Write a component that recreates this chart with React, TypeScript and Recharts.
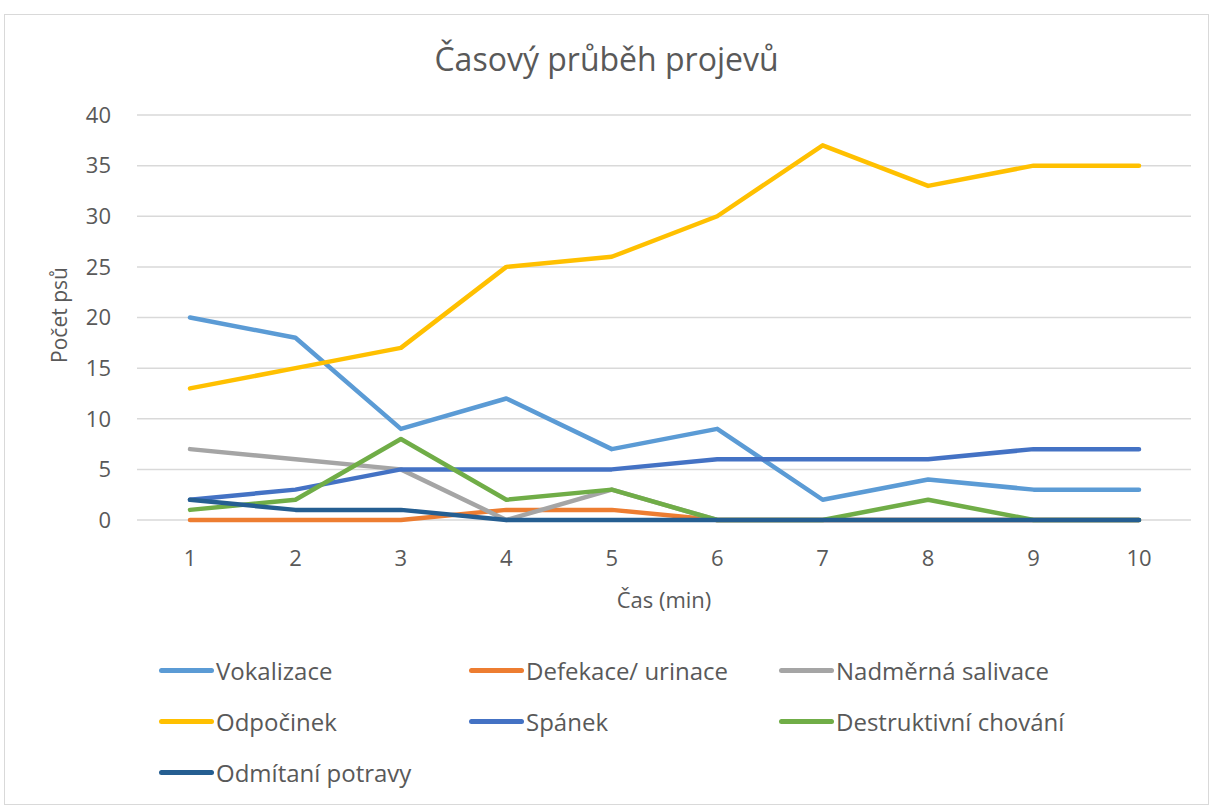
import React from 'react';
import {
  LineChart,
  Line,
  XAxis,
  YAxis,
  CartesianGrid,
} from 'recharts';

const minutes = [1, 2, 3, 4, 5, 6, 7, 8, 9, 10];
const vokalizace = [20, 18, 9, 12, 7, 9, 2, 4, 3, 3];
const defekace = [0, 0, 0, 1, 1, 0, 0, 0, 0, 0];
const salivace = [7, 6, 5, 0, 3, 0, 0, 0, 0, 0];
const odpocinek = [13, 15, 17, 25, 26, 30, 37, 33, 35, 35];
const spanek = [2, 3, 5, 5, 5, 6, 6, 6, 7, 7];
const destruktivni = [1, 2, 8, 2, 3, 0, 0, 2, 0, 0];
const odmitani = [2, 1, 1, 0, 0, 0, 0, 0, 0, 0];
const yTicks = [0, 5, 10, 15, 20, 25, 30, 35, 40];

const series = [
  { key: 'vok', name: 'Vokalizace', values: vokalizace, color: '#5B9BD5' },
  { key: 'def', name: 'Defekace/ urinace', values: defekace, color: '#ED7D31' },
  { key: 'sal', name: 'Nadměrná salivace', values: salivace, color: '#A5A5A5' },
  { key: 'odp', name: 'Odpočinek', values: odpocinek, color: '#FFC000' },
  { key: 'spa', name: 'Spánek', values: spanek, color: '#4472C4' },
  { key: 'des', name: 'Destruktivní chování', values: destruktivni, color: '#70AD47' },
  { key: 'odm', name: 'Odmítaní potravy', values: odmitani, color: '#255E91' },
];

const data = minutes.map((m, i) => {
  const row: { [k: string]: number } = { t: m };
  series.forEach((s) => {
    row[s.key] = s.values[i];
  });
  return row;
});

const FONT = '"Open Sans", sans-serif';
const TEXT = '#595959';

function ChartLegend() {
  return (
    <div
      style={{
        position: 'absolute',
        left: 154,
        top: 630,
        width: 960,
        display: 'grid',
        gridTemplateColumns: '310px 310px 310px',
        fontSize: 24,
        color: TEXT,
      }}
    >
      {series.map((s) => (
        <div
          key={s.key}
          style={{ display: 'flex', alignItems: 'center', height: 51 }}
        >
          <span
            style={{
              display: 'inline-block',
              width: 55,
              height: 5,
              borderRadius: 3,
              background: s.color,
              marginRight: 2,
            }}
          />
          <span>{s.name}</span>
        </div>
      ))}
    </div>
  );
}

export default function App() {
  return (
    <div
      style={{
        position: 'absolute',
        left: 4,
        top: 14,
        width: 1205,
        height: 791,
        border: '1px solid #d9d9d9',
        boxSizing: 'border-box',
        background: '#fff',
        fontFamily: FONT,
      }}
    >
      <div
        style={{
          position: 'absolute',
          top: 22,
          width: '100%',
          textAlign: 'center',
          fontSize: 32,
          color: TEXT,
        }}
      >
        Časový průběh projevů
      </div>
      <div
        style={{
          position: 'absolute',
          left: 54 - 100,
          top: 302 - 16,
          width: 200,
          textAlign: 'center',
          transform: 'rotate(-90deg)',
          fontSize: 21,
          color: TEXT,
        }}
      >
        Počet psů
      </div>
      <div
        style={{
          position: 'absolute',
          top: 569,
          width: 1318,
          textAlign: 'center',
          fontSize: 22,
          color: TEXT,
        }}
      >
        Čas (min)
      </div>
      <LineChart
        width={1205}
        height={791}
        data={data}
        margin={{ top: 100, right: 19, bottom: 256, left: 0 }}
      >
        <CartesianGrid vertical={false} stroke="#d9d9d9" strokeWidth={1.5} />
        <XAxis
          dataKey="t"
          padding={{ left: 53, right: 52 }}
          axisLine={false}
          tickLine={false}
          tickMargin={24}
          tick={{ fill: TEXT, fontSize: 22, fontFamily: FONT }}
        />
        <YAxis
          width={132}
          domain={[0, 40]}
          ticks={yTicks}
          interval={0}
          axisLine={false}
          tickLine={false}
          tickMargin={20}
          tick={{ fill: TEXT, fontSize: 22, fontFamily: FONT }}
        />
        {series.map((s) => (
          <Line
            key={s.key}
            dataKey={s.key}
            name={s.name}
            stroke={s.color}
            strokeWidth={4.5}
            dot={false}
            strokeLinecap="round"
            strokeLinejoin="round"
            isAnimationActive={false}
          />
        ))}
      </LineChart>
      <ChartLegend />
    </div>
  );
}
